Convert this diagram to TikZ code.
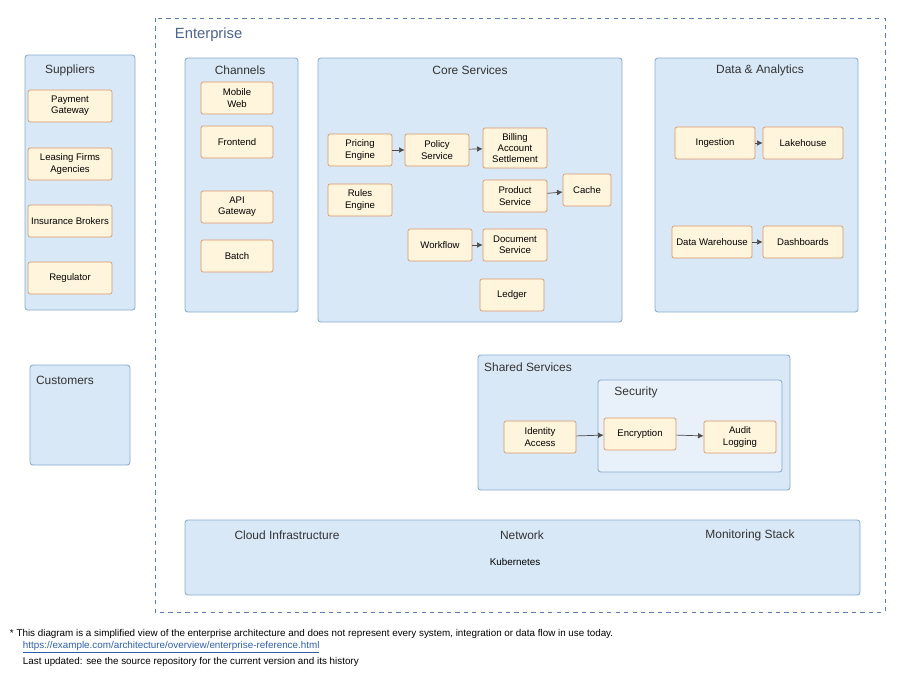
\documentclass[tikz,border=0pt]{standalone}
\usepackage{fontspec}
\setmainfont{Liberation Sans}
\setsansfont{Liberation Sans}
\usepackage{xcolor}
\usetikzlibrary{positioning, calc, arrows.meta}

\definecolor{frameB}{HTML}{5B7DB1}
\definecolor{grpFill}{HTML}{D9E8F6}
\definecolor{grpLine}{HTML}{86AACF}
\definecolor{compFill}{HTML}{FFF5DC}
\definecolor{compLine}{HTML}{D9966A}
\definecolor{linkC}{HTML}{2F5FA8}

\tikzset{
  grpbox/.style={draw=grpLine, fill=grpFill, line width=0.6pt, rounded corners=2pt},
  grptitle/.style={font=\fontsize{8.5}{10}\selectfont, text=black!80},
  comp/.style={draw=compLine, fill=compFill, line width=0.5pt, rounded corners=1.5pt,
    minimum width=1.8cm, minimum height=0.8cm, align=center,
    font=\fontsize{6.8}{8}\selectfont, inner sep=1pt},
  flow/.style={->, draw=black!70, line width=0.5pt},
  fnote/.style={anchor=west, font=\fontsize{7}{8}\selectfont},
}

\begin{document}
\begin{tikzpicture}[
  x=0.025cm, y=-0.025cm,
  font=\sffamily\footnotesize,
  >={Latex[length=4pt,width=4pt]},
]
\useasboundingbox (0,0) rectangle (900,677);
\fill[white] (0,0) rectangle (900,677);

% ---------------- enterprise frame ----------------
\draw[frameB, dashed, line width=0.6pt] (155,18) rectangle (885,612);
\node[anchor=west, font=\fontsize{10.5}{12}\selectfont, text=frameB!80!black]
  (entTitle) at (170,35) {Enterprise};

% =====================================================================
% left column (outside the frame)
% =====================================================================
\draw[grpbox] (25,55) rectangle (135,310);
\node[grptitle] (supTitle) at (70,70) {Suppliers};
\node[comp, minimum width=2.1cm] (sup1) at (70,106) {Payment\\Gateway};
\node[comp, minimum width=2.1cm] (sup2) at (70,164) {Leasing Firms\\Agencies};
\node[comp, minimum width=2.1cm] (sup3) at (70,221) {Insurance Brokers};
\node[comp, minimum width=2.1cm] (sup4) at (70,278) {Regulator};

\draw[grpbox] (30,365) rectangle (130,465);
\node[grptitle] (custTitle) at (65,380) {Customers};

% =====================================================================
% channels
% =====================================================================
\draw[grpbox] (185,58) rectangle (298,312);
\node[grptitle] (chTitle) at (240,70) {Channels};
\node[comp] (ch1) at (237,98) {Mobile\\Web};
\node[comp] (ch2) at (237,142) {Frontend};
\node[comp] (ch3) at (237,207) {API\\Gateway};
\node[comp] (ch4) at (237,256) {Batch};

% =====================================================================
% core services
% =====================================================================
\draw[grpbox] (318,58) rectangle (622,322);
\node[grptitle] (coTitle) at (470,70) {Core Services};
\node[comp, minimum width=1.6cm] (co1) at (360,150) {Pricing\\Engine};
\node[comp, minimum width=1.6cm] (co2) at (437,150) {Policy\\Service};
\node[comp, minimum width=1.6cm, minimum height=1cm] (co3) at (515,148) {Billing\\Account\\Settlement};
\node[comp, minimum width=1.6cm] (co4) at (360,200) {Rules\\Engine};
\node[comp, minimum width=1.6cm] (co5) at (515,196) {Product\\Service};
\node[comp, minimum width=1.2cm] (co6) at (587,190) {Cache};
\node[comp, minimum width=1.6cm] (co7) at (440,245) {Workflow};
\node[comp, minimum width=1.6cm] (co8) at (515,245) {Document\\Service};
\node[comp, minimum width=1.6cm] (co9) at (512,295) {Ledger};

\draw[flow] (co1) -- (co2);
\draw[flow] (co2) -- (co3);
\draw[flow] (co5) -- (co6);
\draw[flow] (co7) -- (co8);

% =====================================================================
% data & analytics
% =====================================================================
\draw[grpbox] (655,58) rectangle (858,312);
\node[grptitle] (daTitle) at (760,70) {Data \& Analytics};
\node[comp, minimum width=2cm] (da1) at (715,143) {Ingestion};
\node[comp, minimum width=2cm] (da2) at (803,143) {Lakehouse};
\node[comp, minimum width=2cm] (da3) at (712,242) {Data Warehouse};
\node[comp, minimum width=2cm] (da4) at (803,242) {Dashboards};

\draw[flow] (da1) -- (da2);
\draw[flow] (da3) -- (da4);

% =====================================================================
% shared services + security
% =====================================================================
\draw[grpbox] (478,355) rectangle (790,490);
\node[grptitle] (shTitle) at (528,367) {Shared Services};
\draw[grpbox, fill=grpFill!60!white] (598,380) rectangle (782,472);
\node[grptitle] (secTitle) at (636,392) {Security};
\node[comp, minimum width=1.8cm] (sh1) at (540,437) {Identity\\Access};
\node[comp, minimum width=1.8cm] (sh2) at (640,434) {Encryption};
\node[comp, minimum width=1.8cm] (sh3) at (740,437) {Audit\\Logging};

\draw[flow] (sh1) -- (sh2);
\draw[flow] (sh2) -- (sh3);

% =====================================================================
% infrastructure band
% =====================================================================
\draw[grpbox] (185,520) rectangle (860,595);
\node[grptitle] (bt1) at (287,535) {Cloud Infrastructure};
\node[grptitle] (bt2) at (522,535) {Network};
\node[grptitle] (bt3) at (750,535) {Monitoring Stack};
\node[font=\fontsize{7}{8}\selectfont] (bt4) at (515,562) {Kubernetes};

% ---------------- footnotes ----------------
\node[fnote] (fn1) at (5,634)
  {* This diagram is a simplified view of the enterprise architecture and does not represent every system, integration or data flow in use today.};
\node[fnote, text=linkC] (fn2) at (18,647)
  {\underline{https://example.com/architecture/overview/enterprise-reference.html}};
\node[fnote] (fn3) at (18,662)
  {Last updated: see the source repository for the current version and its history};

\end{tikzpicture}
\end{document}
